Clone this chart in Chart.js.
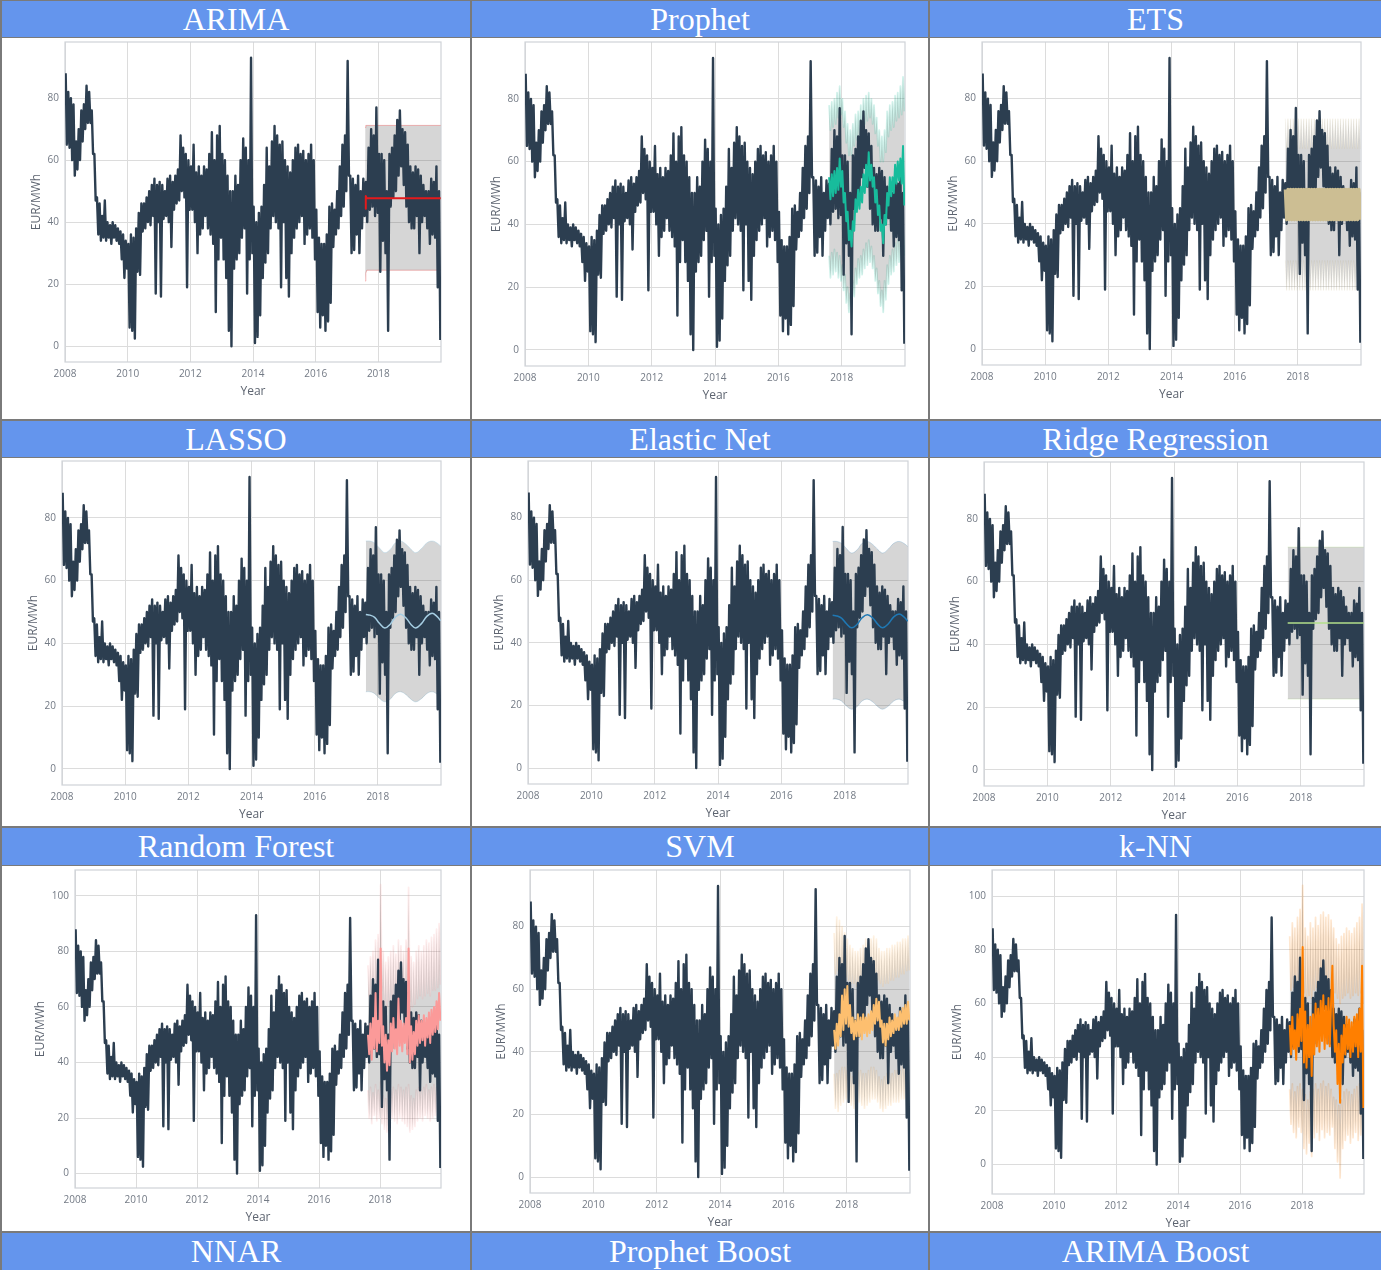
<!DOCTYPE html>
<html>
<head>
<meta charset="utf-8">
<script src="https://cdn.jsdelivr.net/npm/chart.js@4.4.1/dist/chart.umd.min.js"></script>
<style>
  html, body { margin: 0; padding: 0; background: #ffffff; }
  #sheet { position: relative; width: 1381px; height: 1270px; background: #7a7a7a; overflow: hidden; }
  .head { position: absolute; background: #6495ed; color: #ffffff; text-align: center;
          font-family: "Liberation Serif", "Times New Roman", serif; font-size: 32px; }
  .cell { position: absolute; background: #ffffff; }
  .cell canvas { position: absolute; left: 0; top: 0; }
</style>
</head>
<body>
<div id="sheet"></div>
<script>
// model names, one per header cell (last row is cut off in the picture)
const modelNames = ['ARIMA', 'Prophet', 'ETS', 'LASSO', 'Elastic Net', 'Ridge Regression',
    'Random Forest', 'SVM', 'k-NN', 'NNAR', 'Prophet Boost', 'ARIMA Boost'];

const yearTicks = [2008, 2010, 2012, 2014, 2016, 2018];
const yTicks80 = [0, 20, 40, 60, 80];
const yTicks100 = [0, 20, 40, 60, 80, 100];

// day-ahead price, EUR/MWh, two readings per month (high / low) from Jan 2008 to Dec 2019
const price = [
    88, 65, 82, 64, 80, 60, 78, 55, 66, 57, 70, 60, 76, 66, 78, 70, 84, 72, 82, 72, 76, 62, 62, 47, // 2008
    48, 36, 46, 34, 42, 35, 47, 34, 40, 35, 39, 33, 40, 35, 39, 34, 38, 33, 37, 28, 36, 22, 34, 25, // 2009
    33, 6, 36, 5, 35, 2.5, 38, 24, 43, 23, 46, 37, 46, 38, 48, 40, 50, 39, 52, 42, 54, 17, 52, 40, // 2010
    53, 16, 52, 41, 50, 42, 54, 40, 55, 32, 53, 44, 55, 46, 57, 47, 68, 50, 64, 48, 62, 19, 60, 44, // 2011
    58, 44, 65, 40, 56, 30, 58, 36, 55, 38, 58, 42, 57, 38, 62, 36, 69, 33, 60, 11, 68, 28, 71, 35, // 2012
    62, 28, 60, 22, 55, 5, 50, 0, 50, 25, 55, 28, 52, 30, 60, 35, 67, 38, 64, 17, 60, 28, 93, 30, // 2013
    45, 1, 40, 3, 43, 10, 45, 22, 52, 27, 64, 30, 58, 38, 66, 42, 71, 40, 68, 38, 65, 19, 66, 40, // 2014
    60, 22, 58, 16, 56, 30, 60, 35, 64, 38, 65, 40, 62, 42, 63, 33, 60, 36, 62, 38, 65, 35, 60, 28, // 2015
    44, 11, 35, 6, 33, 10, 33, 5, 36, 8, 45, 14, 46, 32, 44, 36, 50, 38, 58, 42, 65, 45, 68, 50, // 2016
    92, 55, 55, 30, 54, 31, 52, 36, 55, 30, 50, 38, 54, 42, 53, 40, 64, 44, 70, 45, 68, 42, 77, 43, // 2017
    62, 24, 62, 34, 60, 30, 50, 5, 62, 45, 64, 48, 68, 50, 73, 55, 76, 58, 70, 52, 69, 45, 65, 40, // 2018
    58, 38, 56, 38, 58, 42, 57, 30, 55, 40, 52, 42, 50, 38, 50, 33, 54, 36, 53, 35, 58, 19, 50, 2  // 2019
];
const fcFrom = 230; // forecasts start at the 231st half-month (Aug 2017)

// ARIMA: flat forecast
const arimaX = [2017.58, 2017.60, 2017.63, 2019.99];
const arimaFc = [44.3, 48.4, 47.7, 47.7];
const arimaLo = [21.0, 23.5, 24.5, 24.5];
const arimaHi = [70.5, 71.2, 71.2, 71.2];

// Prophet (half-month grid from fcFrom)
const prophetFc = [55, 48, 56, 49, 57, 50, 58, 51, 61, 52,
    57, 47, 50, 41, 44, 35, 38, 33, 41, 38,
    48, 44, 51, 45, 52, 47, 56, 50, 59, 52,
    63, 54, 59, 52, 55, 47, 51, 43, 46, 38,
    40, 34, 43, 40, 50, 46, 55, 49, 55, 50,
    59, 53, 60, 54, 61, 53, 65, 46];
const prophetHi = [78, 70, 79, 71, 80, 72, 82, 74, 84, 75,
    80, 71, 76, 66, 72, 62, 70, 62, 72, 65,
    75, 67, 76, 68, 78, 70, 80, 72, 81, 73,
    82, 74, 80, 72, 78, 69, 74, 65, 70, 60,
    68, 60, 70, 63, 76, 68, 78, 70, 79, 71,
    81, 73, 82, 74, 84, 75, 87, 76];
const prophetLo = [30, 23, 31, 24, 32, 25, 31, 23, 30, 22,
    27, 19, 24, 15, 20, 12, 18, 14, 22, 17,
    26, 21, 29, 23, 30, 24, 32, 26, 34, 27,
    35, 28, 33, 26, 30, 22, 26, 18, 22, 14,
    19, 12, 22, 16, 27, 21, 30, 24, 32, 25,
    34, 27, 35, 28, 36, 29, 38, 30];

// ETS: weekly swing between two levels
const etsFc = [51, 41.3, 51, 41.3, 51, 41.3, 51, 41.3, 51, 41.3,
    51, 41.3, 51, 41.3, 51, 41.3, 51, 41.3, 51, 41.3,
    51, 41.3, 51, 41.3, 51, 41.3, 51, 41.3, 51, 41.3,
    51, 41.3, 51, 41.3, 51, 41.3, 51, 41.3, 51, 41.3,
    51, 41.3, 51, 41.3, 51, 41.3, 51, 41.3, 51, 41.3,
    51, 41.3, 51, 41.3, 51, 41.3, 51, 41.3];
const etsHi = [73.6, 64, 73.6, 64, 73.6, 64, 73.6, 64, 73.6, 64,
    73.6, 64, 73.6, 64, 73.6, 64, 73.6, 64, 73.6, 64,
    73.6, 64, 73.6, 64, 73.6, 64, 73.6, 64, 73.6, 64,
    73.6, 64, 73.6, 64, 73.6, 64, 73.6, 64, 73.6, 64,
    73.6, 64, 73.6, 64, 73.6, 64, 73.6, 64, 73.6, 64,
    73.6, 64, 73.6, 64, 73.6, 64, 73.6, 64];
const etsLo = [28.3, 18.7, 28.3, 18.7, 28.3, 18.7, 28.3, 18.7, 28.3, 18.7,
    28.3, 18.7, 28.3, 18.7, 28.3, 18.7, 28.3, 18.7, 28.3, 18.7,
    28.3, 18.7, 28.3, 18.7, 28.3, 18.7, 28.3, 18.7, 28.3, 18.7,
    28.3, 18.7, 28.3, 18.7, 28.3, 18.7, 28.3, 18.7, 28.3, 18.7,
    28.3, 18.7, 28.3, 18.7, 28.3, 18.7, 28.3, 18.7, 28.3, 18.7,
    28.3, 18.7, 28.3, 18.7, 28.3, 18.7, 28.3, 18.7];

// LASSO and Elastic Net: smooth yearly wave
const waveX = [2017.62, 2017.75, 2017.9, 2018.05, 2018.22, 2018.4, 2018.55, 2018.72,
    2018.9, 2019.05, 2019.2, 2019.38, 2019.55, 2019.72, 2019.87, 2019.99];
const lassoFc = [49.2, 49.0, 48.3, 46.4, 44.9, 46.2, 48.3, 49.3, 48.0, 46.0, 44.9, 46.3, 48.6, 49.6, 48.6, 47.2];
const lassoHi = [72.6, 72.6, 72.0, 70.4, 68.9, 70.0, 72.0, 72.6, 71.5, 70.0, 68.9, 70.2, 72.0, 72.6, 72.0, 71.0];
const lassoLo = [24.6, 24.6, 24.0, 22.5, 21.4, 22.3, 24.0, 24.6, 23.6, 22.2, 21.4, 22.4, 24.0, 24.6, 23.9, 23.0];
const enetFc = [48.8, 48.6, 47.9, 46.2, 44.8, 46.0, 48.0, 49.0, 47.8, 45.9, 44.8, 46.1, 48.3, 49.2, 48.3, 46.9];
const enetHi = [72.4, 72.4, 71.8, 70.2, 68.7, 69.8, 71.8, 72.4, 71.3, 69.8, 68.7, 70.0, 71.8, 72.4, 71.8, 70.8];
const enetLo = [22.0, 22.0, 21.4, 19.9, 18.8, 19.7, 21.4, 22.0, 21.0, 19.6, 18.8, 19.8, 21.4, 22.0, 21.3, 20.4];

// Ridge: flat
const ridgeX = [2017.59, 2019.99];
const ridgeFc = [46.8, 46.8];
const ridgeHi = [71.0, 71.0];
const ridgeLo = [22.6, 22.6];

// Random Forest
const rfFc = [50, 43, 54, 41, 56, 45, 65, 44, 55, 47,
    81, 46, 53, 40, 50, 37, 48, 39, 54, 44,
    56, 45, 52, 43, 63, 46, 55, 44, 54, 47,
    56, 43, 81, 40, 53, 41, 51, 43, 55, 46,
    57, 47, 55, 48, 57, 46, 56, 49, 58, 47,
    59, 50, 60, 51, 62, 52, 65, 55];
const rfHi = [75, 64, 78, 65, 80, 64, 84, 66, 86, 65,
    104, 66, 80, 62, 76, 60, 78, 62, 80, 63,
    82, 64, 79, 63, 84, 65, 82, 64, 80, 63,
    84, 64, 103, 62, 78, 60, 76, 61, 80, 63,
    82, 64, 80, 63, 82, 64, 84, 65, 83, 64,
    85, 66, 86, 66, 88, 67, 90, 68];
const rfLo = [30, 20, 31, 18, 29, 21, 32, 19, 30, 20,
    33, 18, 28, 16, 27, 15, 29, 17, 30, 20,
    31, 19, 30, 18, 32, 20, 31, 19, 30, 18,
    31, 17, 32, 15, 28, 16, 27, 17, 30, 19,
    31, 20, 30, 19, 31, 21, 32, 20, 30, 19,
    31, 20, 32, 21, 31, 20, 30, 19];

// SVM
const svmFc = [47, 41, 49, 42, 52, 45, 58, 47, 60, 49,
    61, 48, 55, 46, 51, 44, 50, 45, 52, 45,
    51, 44, 52, 46, 51, 45, 52, 46, 53, 47,
    55, 49, 57, 50, 56, 48, 50, 43, 49, 42,
    49, 44, 51, 45, 50, 46, 52, 47, 51, 47,
    53, 48, 54, 49, 55, 49, 56, 50];
const svmHi = [78, 65, 83, 66, 82, 66, 80, 65, 78, 64,
    76, 63, 74, 62, 73, 62, 72, 61, 72, 62,
    73, 62, 74, 63, 76, 64, 75, 63, 76, 64,
    77, 64, 76, 63, 73, 62, 72, 61, 72, 62,
    73, 62, 73, 63, 74, 63, 74, 64, 75, 64,
    75, 65, 76, 65, 76, 66, 77, 66];
const svmLo = [33, 22, 33, 21, 34, 23, 35, 24, 35, 25,
    34, 24, 33, 23, 32, 22, 33, 23, 34, 24,
    34, 23, 33, 22, 33, 23, 34, 24, 35, 25,
    35, 25, 34, 24, 32, 22, 31, 21, 32, 22,
    33, 23, 33, 23, 33, 24, 34, 24, 34, 24,
    34, 25, 35, 25, 35, 26, 36, 26];

// k-NN
const knnFc = [52, 41, 55, 43, 50, 39, 56, 44, 58, 46,
    81, 38, 57, 36, 52, 40, 55, 33, 56, 41,
    60, 44, 58, 42, 61, 46, 63, 43, 59, 45,
    62, 44, 60, 74, 52, 42, 50, 30, 45, 23,
    48, 38, 52, 41, 55, 43, 54, 40, 53, 42,
    55, 44, 56, 40, 58, 42, 74, 21];
const knnHi = [85, 65, 90, 66, 88, 64, 92, 67, 95, 68,
    104, 64, 88, 62, 85, 63, 90, 62, 88, 65,
    92, 66, 89, 64, 93, 67, 94, 66, 92, 67,
    93, 66, 91, 69, 88, 64, 84, 62, 82, 60,
    85, 62, 86, 63, 88, 64, 87, 62, 86, 63,
    88, 64, 90, 63, 92, 64, 97, 60];
const knnLo = [28, 15, 30, 12, 27, 10, 29, 14, 30, 12,
    28, 6, 26, 4, 24, 8, 27, 3, 28, 10,
    30, 12, 28, 9, 30, 13, 31, 10, 29, 12,
    30, 11, 28, 14, 25, 6, 24, 1, 22, -5,
    24, 6, 27, 9, 28, 11, 27, 8, 26, 10,
    28, 12, 29, 9, 30, 11, 28, 2];

// page layout of the table
const cols = [[2, 470], [472, 928], [930, 1381]];
const headRows = [[1, 37], [421, 457], [828, 865], [1233, 1270]];
const bodyRows = [[38, 419], [458, 826], [866, 1231]];

const panels = [
    { plot: [65, 42, 441, 362], yMin: -5.1, yMax: 98.1, yTicks: yTicks80, rgb: '227,26,28', xs: arimaX, fc: arimaFc, lo: arimaLo, hi: arimaHi, lw: 2, bandAlpha: 0.3, bandW: 1 },
    { plot: [525, 42, 905, 366], yMin: -5.1, yMax: 98.1, yTicks: yTicks80, rgb: '24,188,156', fc: prophetFc, lo: prophetLo, hi: prophetHi, lw: 2, bandAlpha: 0.2, bandW: 1.8 },
    { plot: [982, 42, 1361, 365], yMin: -5.1, yMax: 98.1, yTicks: yTicks80, rgb: '204,190,147', fc: etsFc, lo: etsLo, hi: etsHi, lw: 3.2, bandAlpha: 0.14, bandW: 1 },
    { plot: [62, 461, 441, 785], yMin: -5.1, yMax: 98.1, yTicks: yTicks80, rgb: '166,206,227', xs: waveX, fc: lassoFc, lo: lassoLo, hi: lassoHi, lw: 1.5, tension: 0.4, bandAlpha: 0.45, bandW: 1 },
    { plot: [528, 461, 908, 784], yMin: -5.1, yMax: 98.1, yTicks: yTicks80, rgb: '31,120,180', xs: waveX, fc: enetFc, lo: enetLo, hi: enetHi, lw: 1.5, tension: 0.4, bandAlpha: 0.2, bandW: 1 },
    { plot: [984, 462, 1364, 786], yMin: -5.1, yMax: 98.1, yTicks: yTicks80, rgb: '178,223,138', xs: ridgeX, fc: ridgeFc, lo: ridgeLo, hi: ridgeHi, lw: 1.5, bandAlpha: 0.3, bandW: 1 },
    { plot: [75, 870, 441, 1188], yMin: -5.2, yMax: 109.3, yTicks: yTicks100, rgb: '251,154,153', fc: rfFc, lo: rfLo, hi: rfHi, lw: 2, bandAlpha: 0.18, bandW: 1.8 },
    { plot: [530, 870, 910, 1193], yMin: -5.1, yMax: 98.1, yTicks: yTicks80, rgb: '253,191,111', fc: svmFc, lo: svmLo, hi: svmHi, lw: 2, bandAlpha: 0.2, bandW: 1.8 },
    { plot: [992, 870, 1364, 1194], yMin: -11, yMax: 109.7, yTicks: yTicks100, rgb: '255,127,0', fc: knnFc, lo: knnLo, hi: knnHi, lw: 2, bandAlpha: 0.18, bandW: 1.8 },
];

const tickColor = '#737a85';
const titleColor = '#5d6470';
const gridColor = '#dcdcdc';

function halfMonthX(i) {
    return 2008 + (i + 0.5) / 24;
}

function toPoints(values, xs, offset) {
    return values.map((v, k) => ({ x: xs ? xs[k] : halfMonthX(offset + k), y: v }));
}

const plotFrame = {
    id: 'plotFrame',
    beforeDatasetsDraw(chart) {
        const a = chart.chartArea;
        const ctx = chart.ctx;
        ctx.save();
        ctx.strokeStyle = '#cfd3d8';
        ctx.lineWidth = 1.2;
        ctx.strokeRect(a.left, a.top, a.right - a.left, a.bottom - a.top);
        ctx.restore();
    },
};

const sheet = document.getElementById('sheet');

function addBox(cls, x0, y0, x1, y1) {
    const el = document.createElement('div');
    el.className = cls;
    el.style.left = x0 + 'px';
    el.style.top = y0 + 'px';
    el.style.width = (x1 - x0) + 'px';
    el.style.height = (y1 - y0) + 'px';
    sheet.appendChild(el);
    return el;
}

headRows.forEach(([y0, y1], r) => {
    cols.forEach(([x0, x1], c) => {
        const h = addBox('head', x0, y0, x1, y1);
        h.style.lineHeight = (y1 - y0) + 'px';
        h.textContent = modelNames[r * 3 + c];
    });
});

function renderPanel(p, idx) {
    const [cx0, cx1] = cols[idx % 3];
    const [cy0, cy1] = bodyRows[Math.floor(idx / 3)];
    const cell = addBox('cell', cx0, cy0, cx1, cy1);
    const canvas = document.createElement('canvas');
    canvas.width = cx1 - cx0;
    canvas.height = cy1 - cy0;
    cell.appendChild(canvas);

    const [pl, pt, pr, pb] = p.plot;
    const titleOffset = p.yTicks.length > 5 ? 34 : 28;
    const band = (data) => ({
        data,
        borderColor: `rgba(${p.rgb},${p.bandAlpha})`,
        borderWidth: p.bandW,
        tension: p.tension || 0,
    });

    new Chart(canvas, {
        type: 'line',
        data: {
            datasets: [
                { ...band(toPoints(p.lo, p.xs, fcFrom)), order: 3, fill: false },
                { ...band(toPoints(p.hi, p.xs, fcFrom)), order: 2, fill: '-1', backgroundColor: 'rgba(51,51,51,0.2)' },
                { data: toPoints(price, null, 0), order: 1, borderColor: '#2c3e50', borderWidth: 2.4, fill: false },
                { data: toPoints(p.fc, p.xs, fcFrom), order: 0, borderColor: `rgb(${p.rgb})`, borderWidth: p.lw, fill: false, tension: p.tension || 0 },
            ],
        },
        options: {
            responsive: false,
            animation: false,
            events: [],
            layout: { padding: { top: pt - cy0, right: cx1 - pr, left: 0, bottom: 0 } },
            elements: { point: { radius: 0 }, line: { borderJoinStyle: 'round' } },
            plugins: { legend: { display: false }, tooltip: { enabled: false } },
            scales: {
                x: {
                    type: 'linear',
                    min: 2008,
                    max: 2020,
                    afterBuildTicks: (s) => { s.ticks = yearTicks.map((v) => ({ value: v })); },
                    afterFit: (s) => {
                        s.height = cy1 - pb;
                        s.paddingLeft = 0;
                        s.paddingRight = 0;
                    },
                    grid: { color: gridColor, lineWidth: 1, drawTicks: false },
                    border: { display: false },
                    ticks: { color: tickColor, font: { family: 'Open Sans', size: 10 }, padding: 6.5, maxRotation: 0, autoSkip: false, callback: (v) => String(v) },
                    title: { display: true, text: 'Year', color: titleColor, font: { family: 'Open Sans', size: 12 }, padding: { top: 0, bottom: (cy1 - pb - 30) - 7.2 } },
                },
                y: {
                    min: p.yMin,
                    max: p.yMax,
                    afterBuildTicks: (s) => { s.ticks = p.yTicks.map((v) => ({ value: v })); },
                    afterFit: (s) => {
                        s.width = pl - cx0;
                        s.paddingTop = 0;
                        s.paddingBottom = 0;
                    },
                    grid: { color: gridColor, lineWidth: 1, drawTicks: false },
                    border: { display: false },
                    ticks: { color: tickColor, font: { family: 'Open Sans', size: 10 }, padding: 6, callback: (v) => String(v) },
                    title: { display: true, text: 'EUR/MWh', color: titleColor, font: { family: 'Open Sans', size: 12 }, padding: { top: (pl - titleOffset - cx0) - 7.2, bottom: 0 } },
                },
            },
        },
        plugins: [plotFrame],
    });
}

panels.forEach(renderPanel);
</script>
</body>
</html>
